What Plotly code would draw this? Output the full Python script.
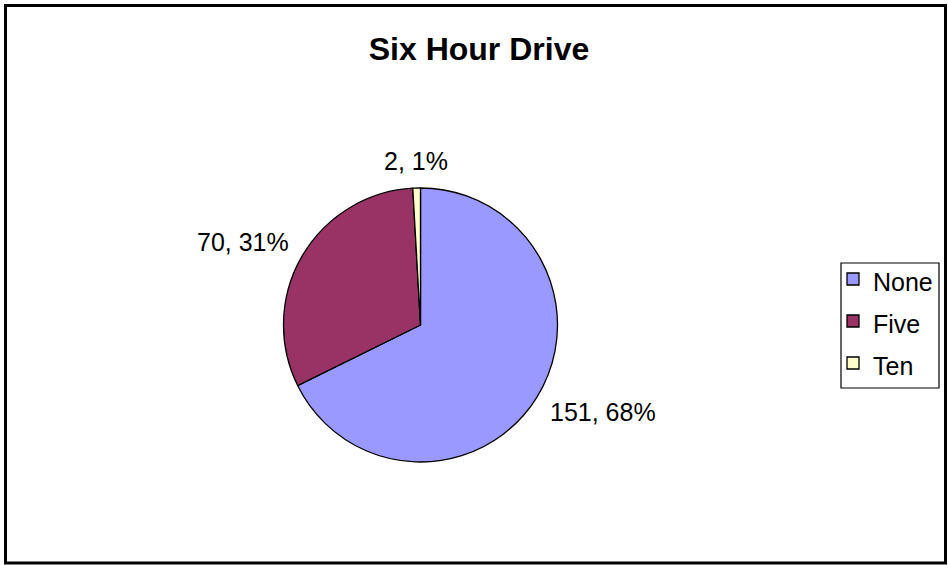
import math
import plotly.graph_objects as go

labels = ["None", "Five", "Ten"]
values = [151, 70, 2]
colors = ["#9999FF", "#993366", "#FFFFCC"]
title_text = "Six Hour Drive"

W, H = 948, 565
FONT = "Arial, Liberation Sans, sans-serif"

def px(x):
    return x / W

def py(y):
    return 1 - y / H

# pie box in pixels
PX0, PX1, PY0, PY1 = 283, 558, 188, 462
CX, CY = (PX0 + PX1) / 2, (PY0 + PY1) / 2
R = min(PX1 - PX0, PY1 - PY0) / 2

# legend entries rendered at 25px inside a 30px legend line (for Excel-like spacing)
legend_labels = [f"<span style='font-size:25px'>{l}</span>" for l in labels]

fig = go.Figure(
    go.Pie(
        labels=legend_labels,
        values=values,
        sort=False,
        direction="clockwise",
        rotation=0,
        marker=dict(colors=colors, line=dict(color="black", width=1.3)),
        textinfo="none",
        domain=dict(x=[px(PX0), px(PX1)], y=[py(PY1), py(PY0)]),
        showlegend=True,
        hoverinfo="label+value+percent",
    )
)

# Excel-style outside data labels "value, percent", placed at each slice's mid-angle
total = sum(values)
cum = 0
annotations = []
LABEL_R = R + 13
BOX_H = 29
for v in values:
    mid = (cum + v / 2) / total * 2 * math.pi  # clockwise from 12 o'clock
    cum += v
    s, c = math.sin(mid), math.cos(mid)
    ax_ = CX + LABEL_R * s
    ay_ = CY - LABEL_R * c - c * BOX_H / 2
    if s > 0.2:
        xa = "left"
    elif s < -0.2:
        xa = "right"
    else:
        xa = "center"
    annotations.append(dict(
        x=px(ax_), y=py(ay_), xref="paper", yref="paper",
        xanchor=xa, yanchor="middle", showarrow=False,
        text=f"{v}, {round(v / total * 100)}%",
        font=dict(family=FONT, size=25, color="black"),
    ))

fig.update_layout(
    width=W,
    height=H,
    margin=dict(l=0, r=0, t=0, b=0),
    paper_bgcolor="white",
    plot_bgcolor="white",
    font=dict(family=FONT, color="black"),
    title=dict(
        text=title_text,
        x=px(479), y=py(49), xanchor="center", yanchor="middle",
        xref="paper", yref="paper",
        font=dict(family=FONT, size=32, color="black", weight="bold"),
    ),
    legend=dict(
        x=px(833), y=py(253), xanchor="left", yanchor="top",
        xref="paper", yref="paper",
        bgcolor="rgba(0,0,0,0)", borderwidth=0,
        font=dict(family=FONT, size=30, color="black"),
        traceorder="normal",
    ),
    annotations=annotations,
    shapes=[
        dict(type="rect", xref="paper", yref="paper",
             x0=px(5.5), x1=px(945.5), y0=py(563), y1=py(5.5),
             line=dict(color="black", width=3), fillcolor="rgba(0,0,0,0)"),
        dict(type="rect", xref="paper", yref="paper",
             x0=px(841), x1=px(939), y0=py(388), y1=py(263),
             line=dict(color="black", width=1.2), fillcolor="rgba(0,0,0,0)"),
    ],
)

fig.write_html(
    "out.html",
    config={"displayModeBar": False},
    post_script="document.body.style.margin='0';document.body.style.overflow='hidden';",
)
